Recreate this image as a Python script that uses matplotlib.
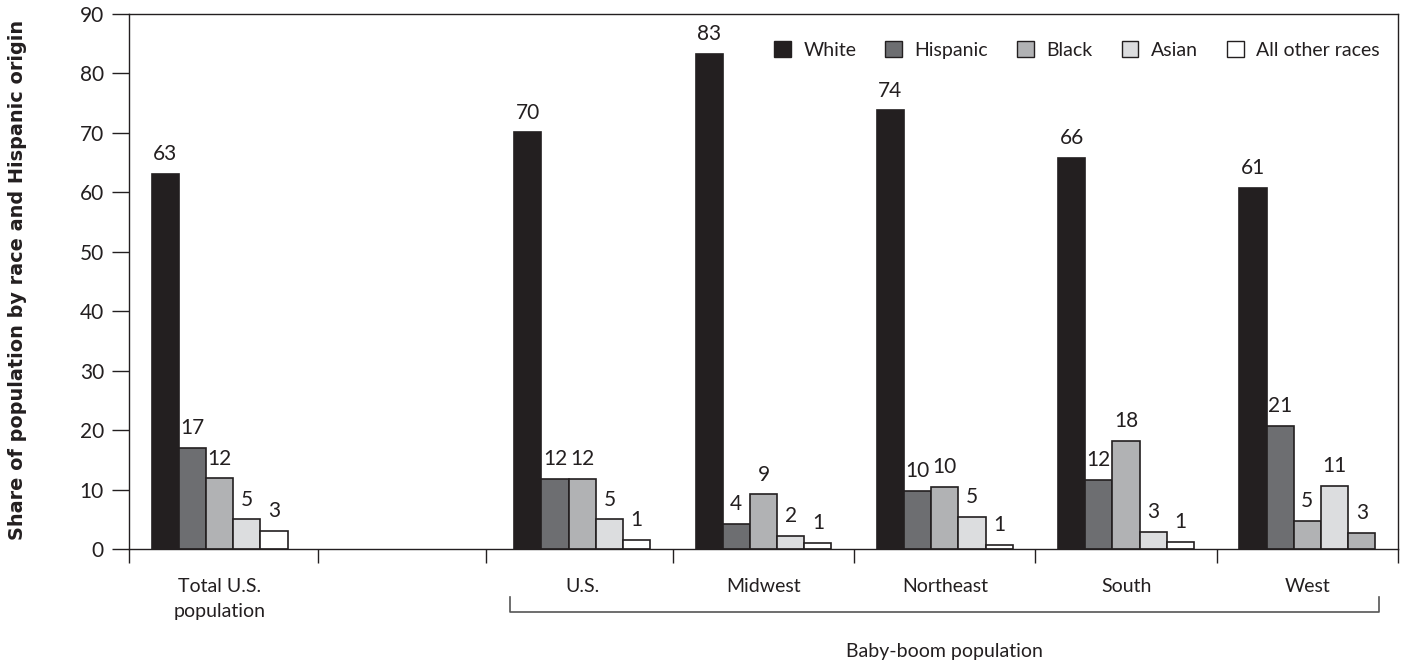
import matplotlib
matplotlib.use("Agg")
import matplotlib.pyplot as plt
from matplotlib.patches import Patch

plt.rcParams.update({
    "font.family": ["Lato", "DejaVu Sans"],
    "text.color": "#231f20",
    "axes.edgecolor": "#231f20",
    "xtick.color": "#231f20",
    "ytick.color": "#231f20",
})

GROUPS = ["Total U.S.\npopulation", "U.S.", "Midwest", "Northeast", "South", "West"]
GROUP_SLOTS = [0, 2, 3, 4, 5, 6]
RACES = ["White", "Hispanic", "Black", "Asian", "All other races"]
RACE_COLORS = ["#231f20", "#6d6e71", "#b1b2b4", "#dcdddf", "#ffffff"]

heights = {
    "White":           [63.1, 70.1, 83.3, 73.8, 65.8, 60.8],
    "Hispanic":        [17.0, 11.8, 4.2, 9.8, 11.6, 20.7],
    "Black":           [11.9, 11.8, 9.2, 10.4, 18.2, 4.7],
    "Asian":           [5.0, 5.0, 2.2, 5.4, 2.9, 10.6],
    "All other races": [3.0, 1.5, 1.0, 0.7, 1.2, 2.7],
}
labels = {
    "White":           [63, 70, 83, 74, 66, 61],
    "Hispanic":        [17, 12, 4, 10, 12, 21],
    "Black":           [12, 12, 9, 10, 18, 5],
    "Asian":           [5, 5, 2, 5, 3, 11],
    "All other races": [3, 1, 1, 1, 1, 3],
}
BOUNDARIES = [0, 1.04, 1.97, 3, 4, 5, 6, 7]

fig = plt.figure(figsize=(14.08, 6.69), dpi=100)
ax = fig.add_axes([129 / 1408, 1 - 549 / 669, 1269 / 1408, 535 / 669])

bar_w = 0.15
for k, race in enumerate(RACES):
    for g, slot in enumerate(GROUP_SLOTS):
        x = slot + 0.5 + (k - 2) * bar_w
        color = RACE_COLORS[k]
        # the source draws West's last bar in the Black shade
        if race == "All other races" and GROUPS[g] == "West":
            color = RACE_COLORS[2]
        h = heights[race][g]
        ax.bar(x, h, width=bar_w, color=color, edgecolor="#231f20",
               linewidth=1.2, zorder=2)
        ax.annotate(str(labels[race][g]), (x, h), xytext=(0, 7),
                    textcoords="offset points", ha="center", va="bottom",
                    fontsize=15)

ax.set_xlim(0, 7)
ax.set_ylim(0, 90)
ax.set_yticks(range(0, 91, 10))
ax.tick_params(axis="y", length=12, width=1, labelsize=15, pad=6)
ax.set_xticks(BOUNDARIES)
ax.set_xticklabels([])
ax.tick_params(axis="x", which="major", length=10, width=1)
ax.set_xticks([s + 0.5 for s in GROUP_SLOTS], minor=True)
ax.set_xticklabels(GROUPS, minor=True, fontsize=14)
ax.tick_params(axis="x", which="minor", length=0, pad=21)
for t in ax.get_xticklabels(minor=True):
    t.set_linespacing(1.55)
for sp in ax.spines.values():
    sp.set_linewidth(1)

# bracket under the baby-boom groups
ax.plot([2.1, 2.1, 6.895, 6.895], [-8.1, -10.6, -10.6, -8.1],
        color="#555555", linewidth=1.2, clip_on=False)
ax.text(4.5, -17.2, "Baby-boom population", ha="center", va="center",
        fontsize=14)

handles = [Patch(facecolor=c, edgecolor="#231f20", linewidth=1) for c in RACE_COLORS]
ax.legend(handles, RACES, loc="center right", bbox_to_anchor=(0.992, 0.933),
          ncol=5, frameon=False, fontsize=14, handlelength=0.85, handleheight=0.85,
          handletextpad=0.65, columnspacing=1.5, borderaxespad=0)

fig.text(18 / 1408, 1 - 280 / 669, "Share of population by race and Hispanic origin",
         rotation=90, ha="center", va="center", fontsize=13.9, fontweight="bold",
         family="DejaVu Sans", color="#231f20")

fig.savefig("out.png", dpi=100)
